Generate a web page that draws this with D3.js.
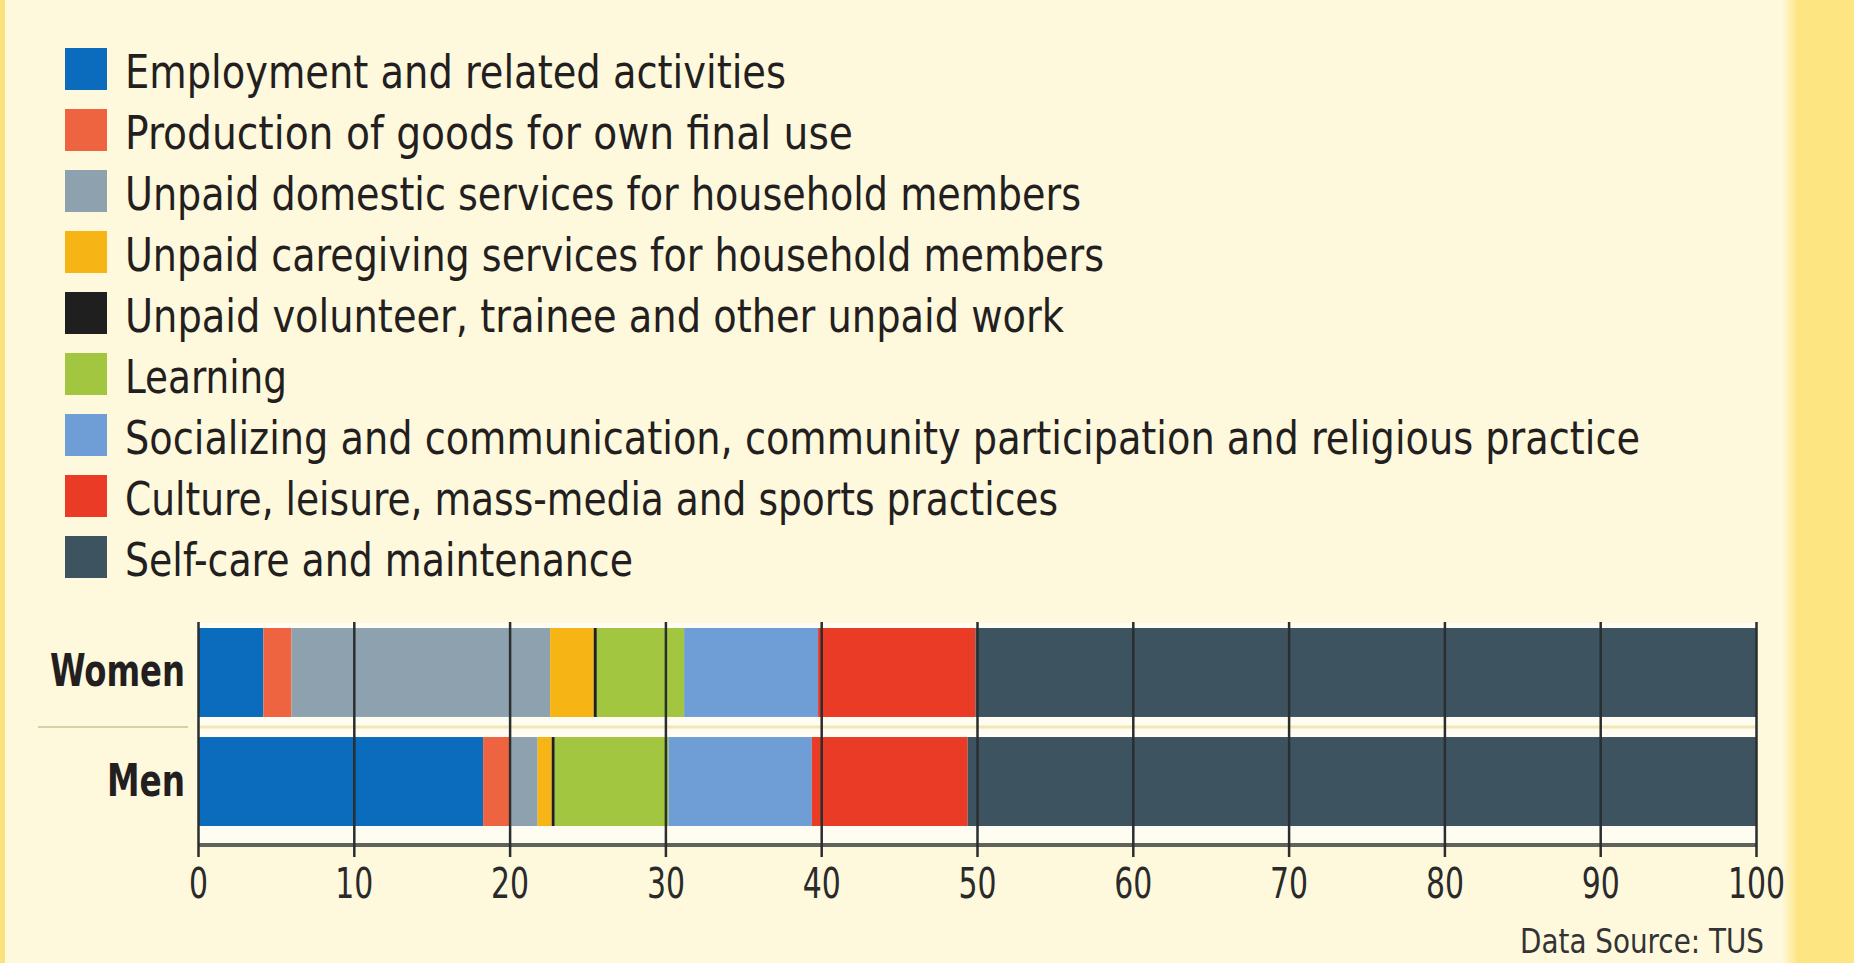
<!DOCTYPE html>
<html>
<head>
<meta charset="utf-8">
<script src="https://cdn.jsdelivr.net/npm/d3@7"></script>
<style>
  html, body { margin: 0; padding: 0; background: #fef8dc; overflow: hidden; }
  svg { display: block; }
  text { font-family: "Liberation Sans Narrow", "DejaVu Sans Condensed", "Roboto Condensed", sans-serif; }
</style>
</head>
<body>
<svg id="chart" width="1854" height="963"></svg>
<script>
// ---- data ----
const groups = ["Women", "Men"];
const activities = [
  "Employment and related activities",
  "Production of goods for own final use",
  "Unpaid domestic services for household members",
  "Unpaid caregiving services for household members",
  "Unpaid volunteer, trainee and other unpaid work",
  "Learning",
  "Socializing and communication, community participation and religious practice",
  "Culture, leisure, mass-media and sports practices",
  "Self-care and maintenance"
];
const womenValues = [4.2, 1.8, 16.6, 2.8, 0.2, 5.6, 8.6, 10.1, 50.1];
const menValues   = [18.3, 1.8, 1.7, 0.9, 0.2, 7.3, 9.2, 10.0, 50.6];
const tickValues = [0, 10, 20, 30, 40, 50, 60, 70, 80, 90, 100];
const sourceNote = "Data Source: TUS";

// ---- styles ----
const colors = ["#0b6cbd", "#ee6340", "#8da2ae", "#f6b415", "#1f1f1f",
                "#a3c640", "#6f9ed6", "#e93b26", "#3e5360"];
const legendTextWidths = [661, 728, 956, 979, 939, 162, 1515, 933, 508];

const svg = d3.select("#chart");

// background & side strips
svg.append("rect").attr("x", 0).attr("y", 0).attr("width", 1854).attr("height", 963).attr("fill", "#fef8dc");
svg.append("rect").attr("x", 0).attr("y", 0).attr("width", 5).attr("height", 963).attr("fill", "#fbe27c");
const grad = svg.append("defs").append("linearGradient").attr("id", "edge").attr("x1", 0).attr("x2", 1);
grad.append("stop").attr("offset", 0).attr("stop-color", "#fef8dc");
grad.append("stop").attr("offset", 1).attr("stop-color", "#fde682");
svg.append("rect").attr("x", 1782).attr("y", 0).attr("width", 16).attr("height", 963).attr("fill", "url(#edge)");
svg.append("rect").attr("x", 1797).attr("y", 0).attr("width", 57).attr("height", 963).attr("fill", "#fde682");

// ---- legend ----
const legendY = d3.scalePoint().domain(activities).range([69, 557]);
const legend = svg.append("g");
activities.forEach((a, i) => {
  const cy = legendY(a);
  legend.append("rect").attr("x", 65).attr("y", cy - 21).attr("width", 42).attr("height", 42).attr("fill", colors[i]);
  legend.append("text").attr("x", 125).attr("y", cy + 19)
    .attr("font-size", 46).attr("fill", "#231f20")
    .attr("textLength", legendTextWidths[i]).attr("lengthAdjust", "spacingAndGlyphs")
    .text(a);
});

// ---- scales ----
const x = d3.scaleLinear().domain([0, 100]).range([198, 1756]);
const y = d3.scaleBand().domain(groups).range([628, 826]).paddingInner(0.184).paddingOuter(0);

// plot background (lighter)
svg.append("rect").attr("x", x(0)).attr("y", 623).attr("width", x(100) - x(0)).attr("height", 845 - 623).attr("fill", "#fffdf1");

// separator line between groups
const sepY = (y("Women") + y.bandwidth() + y("Men")) / 2;
svg.append("line").attr("x1", 38).attr("x2", 188).attr("y1", sepY).attr("y2", sepY)
  .attr("stroke", "#d9cfa6").attr("stroke-width", 2);
svg.append("line").attr("x1", x(0)).attr("x2", x(100)).attr("y1", sepY).attr("y2", sepY)
  .attr("stroke", "#f3e8b4").attr("stroke-width", 3);

// ---- stacked bars ----
const rows = groups.map(g => {
  const vals = g === "Women" ? womenValues : menValues;
  const o = { group: g };
  activities.forEach((a, i) => o[a] = vals[i]);
  return o;
});
const series = d3.stack().keys(activities)(rows);
svg.append("g").selectAll("g").data(series).join("g")
  .attr("fill", (d, i) => colors[i])
  .selectAll("rect").data(d => d).join("rect")
  .attr("x", d => x(d[0]))
  .attr("y", d => y(d.data.group))
  .attr("width", d => x(d[1]) - x(d[0]))
  .attr("height", y.bandwidth());

// group labels
svg.append("g").selectAll("text").data(groups).join("text")
  .attr("x", 185).attr("y", d => y(d) + y.bandwidth() / 2 + 14)
  .attr("text-anchor", "end").attr("font-size", 44).attr("font-weight", "bold")
  .attr("fill", "#231f20")
  .attr("textLength", d => d === "Women" ? 135 : 78).attr("lengthAdjust", "spacingAndGlyphs")
  .text(d => d);

// axis baseline
svg.append("line").attr("x1", x(0)).attr("x2", x(100)).attr("y1", 845).attr("y2", 845)
  .attr("stroke", "#5f6359").attr("stroke-width", 4);

// ---- axis with gridlines ----
const fmt = d3.format("d");
const axis = d3.axisBottom(x).tickValues(tickValues).tickFormat(fmt)
  .tickSizeInner(-235).tickSizeOuter(0).tickPadding(10);
const ax = svg.append("g").attr("transform", "translate(0,857)").call(axis);
ax.select(".domain").remove();
ax.selectAll(".tick line").attr("stroke", "#2a2e2e").attr("stroke-width", 2.5);
ax.selectAll(".tick text").attr("font-size", 43).attr("fill", "#2a2a2a")
  .attr("font-family", "\"Liberation Sans Narrow\", \"DejaVu Sans Condensed\", sans-serif")
  .attr("textLength", d => fmt(d).length * 19).attr("lengthAdjust", "spacingAndGlyphs");

// source note
svg.append("text").attr("x", 1764).attr("y", 953).attr("text-anchor", "end")
  .attr("font-size", 34).attr("fill", "#333333")
  .attr("textLength", 244).attr("lengthAdjust", "spacingAndGlyphs")
  .text(sourceNote);
</script>
</body>
</html>
